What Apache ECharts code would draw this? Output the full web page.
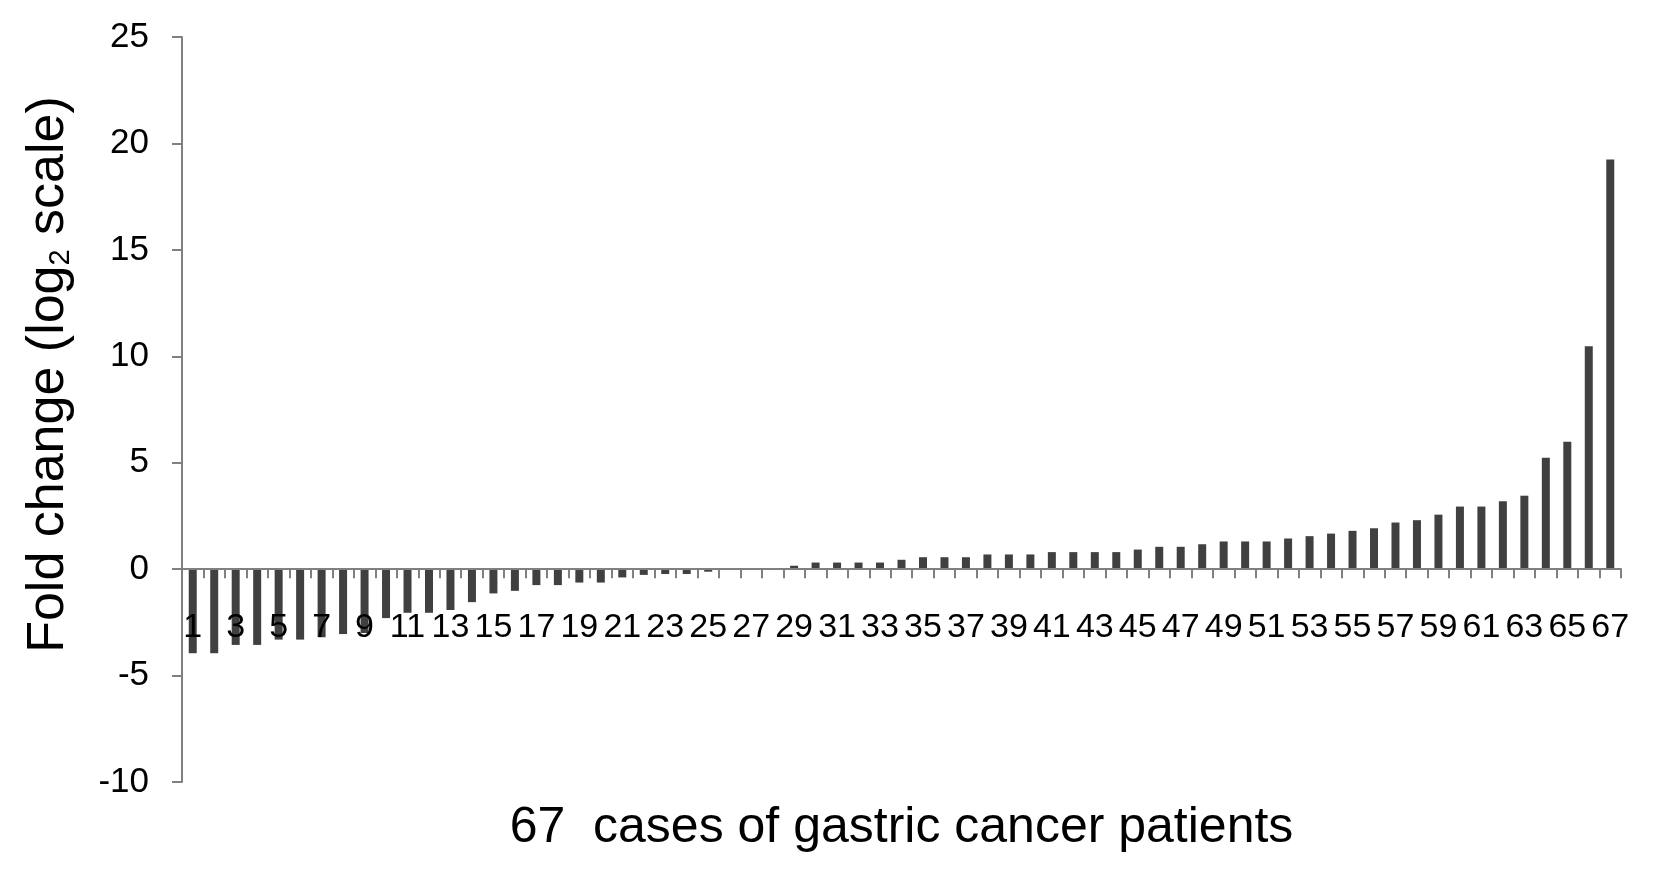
<!DOCTYPE html>
<html>
<head>
<meta charset="utf-8">
<script src="https://cdn.jsdelivr.net/npm/echarts@6/dist/echarts.min.js"></script>
<style>
html,body{margin:0;padding:0;background:#fff;}
#chart{width:1654px;height:875px;}
</style>
</head>
<body>
<div id="chart"></div>
<script>
const categories = Array.from({length: 67}, (_, i) => String(i + 1));
const foldChange = [
  -3.95, -3.95, -3.56, -3.56, -3.31, -3.31, -3.2, -3.05, -3.0, -2.3,
  -2.05, -2.05, -1.92, -1.55, -1.14, -1.02, -0.75, -0.75, -0.63, -0.63,
  -0.39, -0.27, -0.23, -0.23, -0.12, 0, 0, 0, 0.16, 0.31,
  0.31, 0.31, 0.31, 0.44, 0.56, 0.56, 0.56, 0.69, 0.69, 0.69,
  0.8, 0.8, 0.8, 0.8, 0.92, 1.05, 1.05, 1.17, 1.3, 1.3,
  1.3, 1.44, 1.55, 1.67, 1.8, 1.92, 2.19, 2.3, 2.56, 2.94,
  2.94, 3.19, 3.45, 5.23, 5.98, 10.47, 19.25
];
const yTicks = { min: -10, max: 25, interval: 5 };
const xTitle = '67  cases of gastric cancer patients';
const yTitle = 'Fold change (log{sub|2} scale)';

const axisGray = '#808080';
const font = "'Liberation Sans', Arial, sans-serif";
const gridTop = 37, gridBottom = 93, H = 875;

const chart = echarts.init(document.getElementById('chart'), null, {renderer: 'canvas'});
const option = {
  animation: false,
  backgroundColor: '#fff',
  grid: { left: 182, right: 33, top: gridTop, bottom: gridBottom, containLabel: false, outerBoundsMode: 'none' },
  xAxis: {
    type: 'category',
    data: categories,
    z: 3,
    boundaryGap: true,
    offset: 0,
    axisLine: { show: true, onZero: false, lineStyle: { color: axisGray, width: 2 } },
    axisTick: { show: true, interval: 0, length: 9, lineStyle: { color: axisGray, width: 2 } },
    axisLabel: { interval: 1, margin: 41, fontSize: 34, color: '#000', fontFamily: font },
    name: xTitle,
    nameLocation: 'middle',
    nameGap: 234,
    nameTextStyle: { fontSize: 50, color: '#000', fontFamily: font }
  },
  yAxis: {
    type: 'value',
    min: yTicks.min,
    max: yTicks.max,
    interval: yTicks.interval,
    splitLine: { show: false },
    axisLine: { show: true, lineStyle: { color: axisGray, width: 2 } },
    axisTick: { show: true, length: 10, lineStyle: { color: axisGray, width: 2 } },
    axisLabel: { margin: 33, fontSize: 35, color: '#000', fontFamily: font },
    name: yTitle,
    nameLocation: 'middle',
    nameRotate: 90,
    nameGap: 107,
    nameTextStyle: {
      fontSize: 52, color: '#000', fontFamily: font,
      padding: [0, 0, 0, 70],
      rich: {
        sub: { fontSize: 29, fontFamily: font, color: '#000', verticalAlign: 'bottom', lineHeight: 30 }
      }
    }
  },
  series: [{
    type: 'bar',
    data: foldChange,
    barWidth: 8,
    itemStyle: { color: '#404040' }
  }]
};
chart.setOption(option);
// move the category axis (line, ticks, labels, name) up to the y = 0 line
const zeroY = chart.convertToPixel({yAxisIndex: 0}, 0);
const bottomY = H - gridBottom;
chart.setOption({ xAxis: { offset: -(bottomY - zeroY) } });
</script>
</body>
</html>
